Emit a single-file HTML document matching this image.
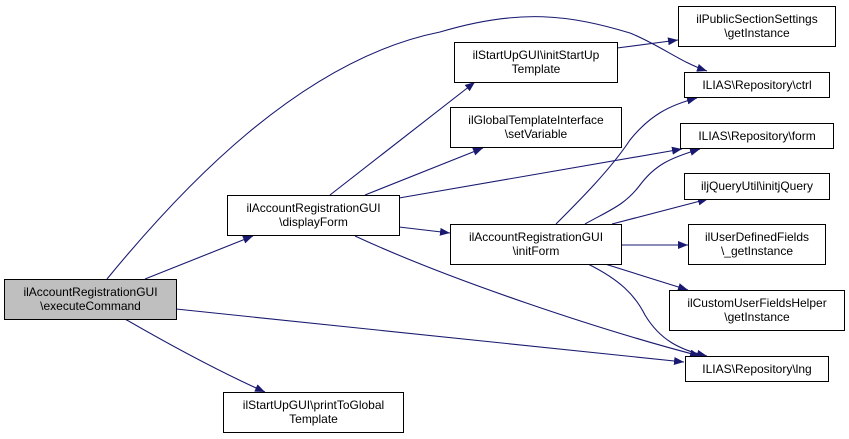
<!DOCTYPE html>
<html><head><meta charset="utf-8"><style>
html,body{margin:0;padding:0;background:#fff;}
svg{display:block;}
text{font-family:"Liberation Sans",Arial,sans-serif;font-size:12px;fill:#000;}
</style></head><body>
<svg width="849" height="439" viewBox="0 0 849 439" xmlns="http://www.w3.org/2000/svg">
<defs>
<marker id="a" viewBox="0 0 10 8" refX="10" refY="4" markerWidth="10" markerHeight="8" markerUnits="userSpaceOnUse" orient="auto">
<path d="M0,0 L10,4 L0,8 Z" fill="#191970"/>
</marker>
</defs>
<g fill="none" stroke="#191970" stroke-width="1.1" marker-end="url(#a)">
<path d="M145,279 L253,236"/>
<path d="M107,279 C180,190 300,60 440,32 C520,8 570,15 630,33 C660,45 680,62 707,71"/>
<path d="M125,319 C170,345 220,372 265,392"/>
<path d="M176,309 L684,362"/>
<path d="M330,195 L475,82"/>
<path d="M365,195 L483,148"/>
<path d="M399,198 L682,149"/>
<path d="M399,227 L450,233"/>
<path d="M355,236 C450,280 600,330 700,356"/>
<path d="M617,48 L678,40"/>
<path d="M556,224 C580,200 610,170 630,140 C650,115 670,105 697,98"/>
<path d="M585,224 C610,210 625,205 640,185 C655,165 670,158 700,149"/>
<path d="M612,224 L708,199"/>
<path d="M621,245 L688,245"/>
<path d="M605,264 L688,290"/>
<path d="M588,264 C620,280 635,295 645,315 C660,340 680,350 707,356"/>
</g>
<g stroke="#000" stroke-width="1" fill="#fff">
<rect x="4.5" y="279.5" width="172" height="40" fill="#bfbfbf"/>
<rect x="227.5" y="195.5" width="172" height="40"/>
<rect x="223.5" y="392.5" width="180" height="40"/>
<rect x="454.5" y="42.5" width="163" height="40"/>
<rect x="450.5" y="107.5" width="171" height="40"/>
<rect x="450.5" y="224.5" width="171" height="40"/>
<rect x="678.5" y="6.5" width="157" height="40"/>
<rect x="684.5" y="72.5" width="145" height="25"/>
<rect x="680.5" y="123.5" width="153" height="25"/>
<rect x="684.5" y="173.5" width="145" height="26"/>
<rect x="688.5" y="224.5" width="137" height="40"/>
<rect x="669.5" y="290.5" width="175" height="40"/>
<rect x="685.5" y="356.5" width="143" height="25"/>
</g>
<g text-anchor="middle">
<text x="90.5" y="296">ilAccountRegistrationGUI</text><text x="90.5" y="310">\executeCommand</text>
<text x="313.5" y="212">ilAccountRegistrationGUI</text><text x="313.5" y="226">\displayForm</text>
<text x="313.5" y="409">ilStartUpGUI\printToGlobal</text><text x="313.5" y="423">Template</text>
<text x="536" y="59">ilStartUpGUI\initStartUp</text><text x="536" y="73">Template</text>
<text x="536" y="124">ilGlobalTemplateInterface</text><text x="536" y="138">\setVariable</text>
<text x="536" y="241">ilAccountRegistrationGUI</text><text x="536" y="255">\initForm</text>
<text x="757" y="23">ilPublicSectionSettings</text><text x="757" y="37">\getInstance</text>
<text x="757" y="89">ILIAS\Repository\ctrl</text>
<text x="757" y="140">ILIAS\Repository\form</text>
<text x="757" y="190">iljQueryUtil\initjQuery</text>
<text x="757" y="241">ilUserDefinedFields</text><text x="757" y="255">\_getInstance</text>
<text x="757" y="307">ilCustomUserFieldsHelper</text><text x="757" y="321">\getInstance</text>
<text x="757" y="373">ILIAS\Repository\lng</text>
</g>
</svg>
</body></html>
